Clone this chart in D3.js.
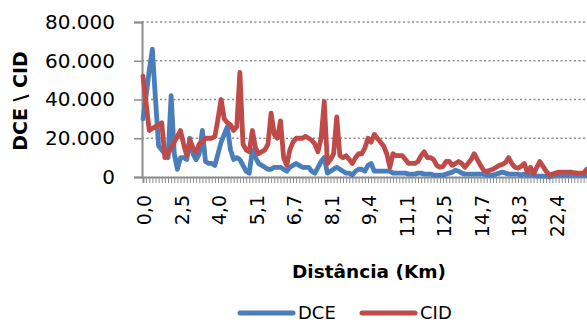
<!DOCTYPE html>
<html>
<head>
<meta charset="utf-8">
<script src="https://cdn.jsdelivr.net/npm/d3@7"></script>
<style>
  body { margin: 0; background: #fff; }
  svg { display: block; font-family: "DejaVu Sans", sans-serif; }
</style>
</head>
<body>
<div id="chart"></div>
<script>
// series values, one per distance category
const dce = [
  30000, 42000, 55000, 66000, 40000, 16000, 14000, 12000, 10000, 42000,
  12000, 4000, 10000, 10000, 9000, 20000, 12000, 9000, 12000, 24000,
  8000, 7000, 7000, 6000, 12000, 18000, 22000, 26000, 14000, 9000,
  10000, 9000, 6000, 3000, 2000, 14000, 10000, 7000, 6000, 5000,
  4000, 4000, 5000, 5000, 5000, 4000, 3000, 5000, 6000, 7000,
  6000, 5000, 5000, 5000, 3000, 2000, 5000, 8000, 10000, 2000,
  3000, 4000, 5000, 4000, 3000, 2000, 2000, 1000, 3000, 4000,
  4000, 3000, 6000, 7000, 3000, 3000, 3000, 3000, 3000, 3000,
  2000, 2000, 2000, 2000, 2000, 1500, 1500, 1500, 2000, 2000,
  1500, 1500, 1500, 1000, 1000, 1000, 1000, 1500, 2000, 2500,
  3500, 3000, 2000, 1500, 1500, 1500, 1500, 1500, 1500, 1500,
  1000, 1000, 1000, 1500, 2000, 2500, 2000, 1500, 1500, 1500,
  1500, 1000, 1500, 1000, 1000, 1000, 500, 500, 500, 500,
  0, 500, 1000, 1000, 1000, 1000, 1000, 1000, 1000, 1000,
  1000, 1000, 1000, 1000
];
const cid = [
  52000, 38000, 24000, 25000, 26000, 27000, 28000, 10000, 12000, 15000,
  18000, 21000, 24000, 17000, 11000, 19000, 15000, 13000, 17000, 18000,
  20000, 20000, 20000, 21000, 30000, 40000, 30000, 28000, 27000, 24000,
  26000, 54000, 17000, 14000, 13000, 24000, 15000, 12000, 13000, 14000,
  17000, 33000, 22000, 20000, 29000, 10000, 6000, 14000, 18000, 20000,
  20000, 20000, 21000, 20000, 19000, 17000, 13000, 20000, 39000, 7000,
  9000, 12000, 31000, 11000, 10000, 11000, 9000, 7000, 10000, 12000,
  12000, 15000, 20000, 18000, 22000, 20000, 18000, 16000, 12000, 5000,
  12000, 11000, 11000, 11000, 9000, 7000, 7000, 7000, 8000, 11000,
  13000, 10000, 10000, 9000, 6000, 5000, 5500, 8000, 8000, 6000,
  7000, 8000, 7000, 5000, 7000, 9000, 12000, 9000, 6000, 3500,
  3000, 3500, 4000, 5000, 6000, 6500, 7500, 10000, 7000, 5000,
  4500, 5500, 7000, 2500, 5000, 1500, 5000, 8000, 5500, 3000,
  1000, 1500, 2000, 2500, 2500, 2500, 2500, 2500, 2200, 2000,
  2000, 2000, 4000, 4500
];
const seriesNames = ["DCE", "CID"];
const seriesColors = ["#4a7ebb", "#be4b48"];
const tickLabels = ["0,0", "2,5", "4,0", "5,1", "6,7", "8,1", "9,4", "11,1", "12,5", "14,7", "18,3", "22,4"];
const labelStep = 12;
const yTicks = [0, 20000, 40000, 60000, 80000];

const chartW = 587, chartH = 323;
const plotLeft = 143, plotTop = 22, plotBottom = 177, step = 3.125;
const axisColor = "#8c8c8c";

const svg = d3.select("#chart").append("svg")
  .attr("width", chartW)
  .attr("height", chartH);

const n = dce.length;
const x = d3.scaleLinear().domain([0, n - 1]).range([plotLeft, plotLeft + step * (n - 1)]);
const y = d3.scaleLinear().domain([0, 80000]).range([plotBottom, plotTop]);

const ptFormat = d3.formatLocale({decimal: ",", thousands: ".", grouping: [3], currency: ["", ""]}).format(",");

// dotted gridlines
svg.append("g")
  .selectAll("line")
  .data(yTicks.filter(d => d > 0))
  .join("line")
  .attr("x1", plotLeft - 1)
  .attr("x2", chartW)
  .attr("y1", d => y(d))
  .attr("y2", d => y(d))
  .attr("stroke", axisColor)
  .attr("stroke-width", 1.5)
  .attr("stroke-dasharray", "2,2.5");

// y axis
const yAxis = svg.append("g")
  .attr("transform", `translate(${plotLeft - 1},0)`)
  .call(d3.axisLeft(y).tickValues(yTicks).tickSize(8).tickPadding(19).tickFormat(ptFormat));
yAxis.select(".domain").attr("stroke", axisColor).attr("stroke-width", 2);
yAxis.selectAll(".tick line").attr("stroke", axisColor).attr("stroke-width", 1.5);
yAxis.selectAll("text").attr("font-size", 20).attr("fill", "#000")
  .attr("font-family", "DejaVu Sans");

// x axis, one tick per category
const xAxis = svg.append("g")
  .attr("transform", `translate(0,${plotBottom})`)
  .call(d3.axisBottom(x)
    .tickValues(d3.range(n))
    .tickSize(6)
    .tickFormat(i => i % labelStep === 0 ? (tickLabels[i / labelStep] || "") : ""));
xAxis.select(".domain").attr("stroke", axisColor).attr("stroke-width", 2);
xAxis.selectAll(".tick line").attr("stroke", axisColor).attr("stroke-width", 1);
xAxis.selectAll("text")
  .attr("font-size", 19)
  .attr("font-family", "DejaVu Sans")
  .attr("fill", "#000")
  .attr("text-anchor", "end")
  .attr("transform", "rotate(-90)")
  .attr("x", -18)
  .attr("y", 0)
  .attr("dy", "0.4em");

// lines
const line = d3.line().x((d, i) => x(i)).y(d => y(d));
[dce, cid].forEach((vals, k) => {
  svg.append("path")
    .datum(vals)
    .attr("fill", "none")
    .attr("stroke", seriesColors[k])
    .attr("stroke-width", 4.8)
    .attr("stroke-linejoin", "round")
    .attr("stroke-linecap", "round")
    .attr("d", line);
});

// axis titles
svg.append("text")
  .attr("x", 369)
  .attr("y", 278)
  .attr("text-anchor", "middle")
  .attr("font-size", 18.5)
  .attr("font-weight", "bold")
  .text("Distância (Km)");

svg.append("text")
  .attr("transform", "translate(27,101) rotate(-90)")
  .attr("text-anchor", "middle")
  .attr("font-size", 19)
  .attr("font-weight", "bold")
  .text("DCE \\ CID");

// legend
const legend = svg.append("g")
  .selectAll("g")
  .data(seriesNames)
  .join("g")
  .attr("transform", (d, i) => `translate(${240 + i * 122},0)`);
legend.append("line")
  .attr("x1", 0).attr("x2", 53)
  .attr("y1", 313).attr("y2", 313)
  .attr("stroke", (d, i) => seriesColors[i])
  .attr("stroke-width", 5)
  .attr("stroke-linecap", "round");
legend.append("text")
  .attr("x", 58)
  .attr("y", 319)
  .attr("font-size", 18)
  .text(d => d);
</script>
</body>
</html>
